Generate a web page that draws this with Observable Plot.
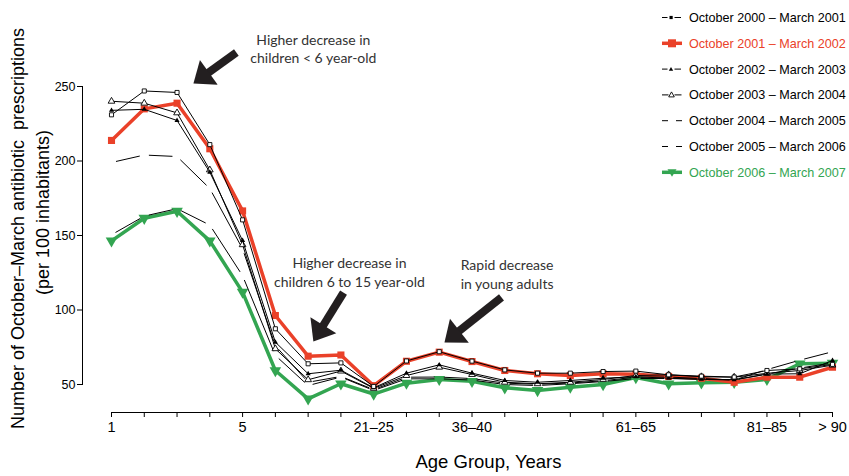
<!DOCTYPE html>
<html><head><meta charset="utf-8">
<script src="https://cdn.jsdelivr.net/npm/d3@7"></script>
<script src="https://cdn.jsdelivr.net/npm/@observablehq/plot@0.6"></script>
<style>
body{margin:0;background:#fff;}
#wrap{position:relative;width:849px;height:476px;background:#fff;}
</style></head><body><div id="wrap"></div>
<script>
// ---------- data ----------
const ageGroups = ["1","2","3","4","5","6–10","11–15","16–20","21–25","26–30","31–35","36–40","41–45","46–50","51–55","56–60","61–65","66–70","71–75","76–80","81–85","86–90","> 90"];
const labeledAgeGroups = ["1","5","21–25","36–40","61–65","81–85","> 90"];
const yTickValues = [50,100,150,200,250];
const seasons = ["October 2000 – March 2001","October 2001 – March 2002","October 2002 – March 2003","October 2003 – March 2004","October 2004 – March 2005","October 2005 – March 2006","October 2006 – March 2007"];
const rates2000 = [231,247,246,211,160.5,87.4,63.9,64.5,48.7,65.8,72,65.7,59.8,57.6,57.6,58.7,59,56.5,55.6,55,59.4,60.5,63.5];
const rates2001 = [213.8,235,238.8,208.2,166.5,96.3,69,69.8,49.2,65.6,71.7,65.4,59.4,57.2,56,57.2,56.8,55.4,54.2,51.5,54.9,54.9,61.6];
const rates2002 = [234,234.7,227.2,192.5,146.6,78.4,57.2,59.6,47.8,57.6,63.2,57.6,52.7,51.5,52.7,54.2,55.2,54.2,53.5,53.2,57,57.2,66.1];
const rates2003 = [240.1,238.8,232.3,194,143.8,74,53.2,59,47.4,56,61.6,56.7,51.5,50.5,51.5,53.4,56,56.5,55.2,54.9,57.5,59.4,63];
const rates2004 = [199,204,203,181.5,141,76,51.5,55.4,46.6,54.9,55,54,50.9,50.2,51,52.5,55,55,54,53,57,61,64.5];
const rates2005 = [150.5,163,168,157,123,69.5,49.3,55,46,53.8,53.8,53,50,49.3,50.5,52,54,54,53.5,53,60,66.3,72];
const rates2006 = [146.4,161.6,166.3,146.4,112,59.4,40.4,50.5,43.6,50.9,53.4,52.2,47.8,46,48.2,50,54.7,50.5,51.1,51.5,53.4,63.9,64.3];

const annotationTexts = [
  {x: 6.16, y: 275.8, text: "Higher decrease in\nchildren < 6 year-old"},
  {x: 7.26, y: 125.8, text: "Higher decrease in\nchildren 6 to 15 year-old"},
  {x: 12.07, y: 124.3, text: "Rapid decrease\nin young adults"}
];
const annotationArrows = [
  {x1: 3.81, y1: 272.8, x2: 2.50, y2: 252.0},
  {x1: 7.08, y1: 111.7, x2: 6.16, y2: 78.9},
  {x1: 11.90, y1: 108.4, x2: 10.16, y2: 78.2}
];
const yTitleLines = ["Number of October–March antibiotic  prescriptions", "(per 100 inhabitants)"];
const xTitle = "Age Group, Years";

// ---------- styles ----------
const RED = "#ea4129", GREEN = "#33a551", INK = "#231f20";
const FONT = "'Liberation Sans', Arial, Helvetica, sans-serif";

const baseOpts = {
  width: 849, height: 476,
  marginLeft: 82, marginRight: 17, marginTop: 86, marginBottom: 92,
  x: {domain: [0, ageGroups.length - 1], insetLeft: 29, axis: null},
  y: {domain: [50, 250], axis: null}
};

const probe = Plot.plot({...baseOpts, marks: [Plot.dot([0], {x: () => 0, y: () => 50})]});
const sx = probe.scale("x"), sy = probe.scale("y");
const arrows = annotationArrows.map(a => {
  const dx = sx.apply(a.x2) - sx.apply(a.x1), dy = sy.apply(a.y2) - sy.apply(a.y1);
  return {...a, angle: Math.atan2(dx, -dy) * 180 / Math.PI};
});
const arrowHead = {draw(ctx, size) {
  const r = Math.sqrt(size / Math.PI);
  ctx.moveTo(0, 0); ctx.lineTo(-0.8 * r, r); ctx.lineTo(0.8 * r, r); ctx.closePath();
}};

const ix = (d, i) => i;
const iy = d => d;
function segments(vals) {
  const s = [];
  for (let i = 0; i < vals.length - 1; i++) s.push({x1: i, y1: vals[i], x2: i + 1, y2: vals[i + 1]});
  return s;
}

const chart = Plot.plot({
  ...baseOpts,
  style: {fontFamily: FONT, background: "white", color: "black", overflow: "visible"},
  marks: [
    // axes
    Plot.frame({anchor: "left", stroke: "black", strokeWidth: 1}),
    Plot.axisY(yTickValues, {anchor: "left", tickSize: 5, tickPadding: 2, fontSize: 12.5, label: null}),
    Plot.ruleY([50], {x1: 0, x2: ageGroups.length - 1, dy: 28, stroke: "black"}),
    Plot.axisX(d3.range(ageGroups.length), {anchor: "bottom", tickSize: 5, tickPadding: 4, fontSize: 14.5, label: null, dy: 28,
      tickFormat: i => labeledAgeGroups.includes(ageGroups[i]) ? ageGroups[i] : ""}),
    // titles
    Plot.text([yTitleLines[0]], {text: d => d, frameAnchor: "left", textAnchor: "middle", lineAnchor: "middle", rotate: -90, dx: -64, dy: -7, fontSize: 18}),
    Plot.text([yTitleLines[1]], {text: d => d, frameAnchor: "left", textAnchor: "middle", lineAnchor: "middle", rotate: -90, dx: -39, dy: -23, fontSize: 18}),
    Plot.text([xTitle], {text: d => d, frameAnchor: "bottom", textAnchor: "middle", lineAnchor: "middle", dx: 31, dy: 78, fontSize: 18.5}),
    // thick series
    Plot.line(rates2006, {x: ix, y: iy, stroke: GREEN, strokeWidth: 3.5}),
    Plot.dot(rates2006, {x: ix, y: iy, symbol: "triangle", rotate: 180, r: 4.3, fill: GREEN}),
    Plot.line(rates2001, {x: ix, y: iy, stroke: RED, strokeWidth: 3.5}),
    Plot.dot(rates2001, {x: ix, y: iy, symbol: "square", r: 4, fill: RED}),
    // dashed (no marker) series
    Plot.arrow(segments(rates2004), {x1: "x1", y1: "y1", x2: "x2", y2: "y2", insetStart: 5, insetEnd: 5, headLength: 0, stroke: "black", strokeWidth: 1}),
    Plot.arrow(segments(rates2005), {x1: "x1", y1: "y1", x2: "x2", y2: "y2", insetStart: 5, insetEnd: 5, headLength: 0, stroke: "black", strokeWidth: 1}),
    // thin marker series
    Plot.line(rates2003, {x: ix, y: iy, stroke: "black", strokeWidth: 1}),
    Plot.dot(rates2003, {x: ix, y: iy, symbol: "triangle", r: 2.5, fill: "white", stroke: "black", strokeWidth: 0.9}),
    Plot.line(rates2002, {x: ix, y: iy, stroke: "black", strokeWidth: 1}),
    Plot.dot(rates2002, {x: ix, y: iy, symbol: "triangle", r: 1.9, fill: "black"}),
    Plot.line(rates2000, {x: ix, y: iy, stroke: "black", strokeWidth: 1}),
    Plot.dot(rates2000, {x: ix, y: iy, symbol: "square", r: 2.3, fill: "white", stroke: "black", strokeWidth: 0.9}),
    // annotations
    Plot.arrow(arrows, {x1: "x1", y1: "y1", x2: "x2", y2: "y2", insetEnd: 14, headLength: 0, stroke: INK, strokeWidth: 8, strokeLinecap: "butt"}),
    Plot.dot(arrows, {x: "x2", y: "y2", symbol: arrowHead, r: 19, rotate: "angle", fill: INK}),
    Plot.text(annotationTexts, {x: "x", y: "y", text: "text", fontFamily: "Lato, 'Open Sans', sans-serif", fontSize: 14, lineHeight: 1.33, fill: "#333"})
  ]
});

const wrap = document.getElementById("wrap");
wrap.appendChild(chart);

// ---------- legend ----------
const legendColors = ["black", RED, "black", "black", "black", "black", GREEN];
const legend = d3.create("svg").attr("width", 200).attr("height", 190)
  .style("position", "absolute").style("left", "650px").style("top", "0px").style("overflow", "visible");
seasons.forEach((s, k) => {
  const cy = 17.5 + k * 25.8;
  const g = legend.append("g").attr("transform", `translate(0,${cy})`);
  const seg = (a, b, w = 1, c = "black") => g.append("line").attr("x1", a).attr("x2", b).attr("y1", 0).attr("y2", 0).attr("stroke", c).attr("stroke-width", w);
  if (k === 0) { seg(12, 17.5); g.append("rect").attr("x", 19.5).attr("y", -1.6).attr("width", 3.2).attr("height", 3.2).attr("fill", "black"); seg(24.5, 31); }
  if (k === 1) { seg(12, 32, 3.5, RED); g.append("rect").attr("x", 18).attr("y", -4).attr("width", 8).attr("height", 8).attr("fill", RED); }
  if (k === 2) { seg(12, 17.5); g.append("path").attr("d", "M21,-2.2L23.2,1.6L18.8,1.6Z").attr("fill", "black"); seg(24.5, 31); }
  if (k === 3) { seg(12, 18.5); g.append("path").attr("d", "M21.5,-3L24.3,2L18.7,2Z").attr("fill", "white").attr("stroke", "black").attr("stroke-width", 0.9); seg(24.5, 31.5); }
  if (k === 4 || k === 5) { seg(12, 18); seg(26, 32); }
  if (k === 6) { seg(12, 32, 3.5, GREEN); g.append("path").attr("d", "M22,4.5L26.5,-3L17.5,-3Z").attr("fill", GREEN); }
  g.append("text").attr("x", 39).attr("y", 0).attr("dy", "0.35em").attr("fill", legendColors[k])
    .style("font-family", FONT).style("font-size", "12.6px").text(s);
});
wrap.appendChild(legend.node());
</script>
</body></html>
